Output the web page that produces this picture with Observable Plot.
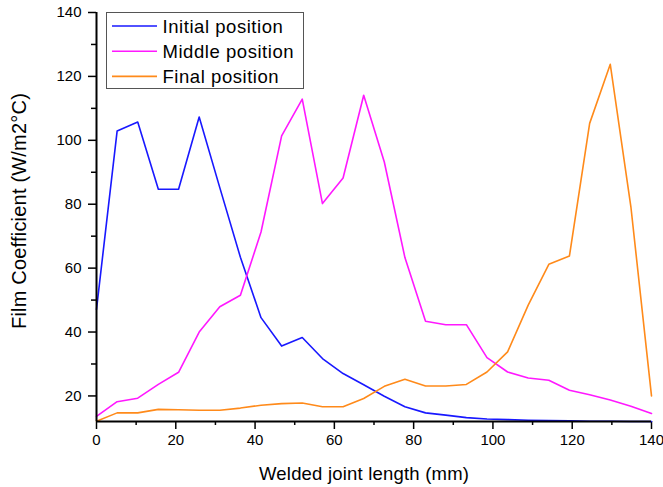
<!DOCTYPE html>
<html>
<head>
<meta charset="utf-8">
<script src="https://cdn.jsdelivr.net/npm/d3@7"></script>
<script src="https://cdn.jsdelivr.net/npm/@observablehq/plot@0.6"></script>
<style>
  html, body { margin: 0; padding: 0; background: #fff; }
  #wrap { position: relative; width: 663px; height: 487px; overflow: hidden; font-family: "Liberation Sans", Arial, sans-serif; }
  #ylabel { position: absolute; left: -131px; top: 199px; width: 300px; height: 24px; line-height: 24px; text-align: center; font-size: 20px; transform: rotate(-90deg); transform-origin: 150px 12px; white-space: nowrap; color: #000; letter-spacing: 0.2px; }
  #xlabel { position: absolute; left: 259px; top: 462px; font-size: 18.5px; line-height: 24px; white-space: nowrap; color: #000; letter-spacing: 0.2px; }
  #legend { position: absolute; left: 106px; top: 12px; width: 196px; height: 75px; border: 1px solid #555; background: #fff; }
  #legend svg { position: absolute; left: 0; top: 0; }
</style>
</head>
<body>
<div id="wrap">
  <div id="chart"></div>
  <div id="ylabel">Film Coefficient (W/m2°C)</div>
  <div id="xlabel">Welded joint length (mm)</div>
  <div id="legend"></div>
</div>
<script>
// ---- data ----
const xs = [0, 5.2, 10.4, 15.6, 20.7, 25.9, 31.1, 36.3, 41.5, 46.7, 51.9, 57.0, 62.2, 67.4,
            72.6, 77.8, 83.0, 88.1, 93.3, 98.5, 103.7, 108.9, 114.1, 119.3, 124.4, 129.6, 134.8, 140];
const initialPos = [47.1, 102.9, 105.7, 84.7, 84.7, 107.3, 85.2, 63.4, 44.5, 35.6, 38.3, 31.7, 27.0, 23.5,
                    19.9, 16.6, 14.7, 14.0, 13.2, 12.8, 12.6, 12.4, 12.3, 12.2, 12.1, 12.1, 12.0, 12.0];
const middlePos = [13.6, 18.2, 19.3, 23.6, 27.4, 40.0, 47.9, 51.5, 71.3, 101.4, 112.9, 80.2, 88.2, 114.1,
                   93.2, 63.3, 43.4, 42.3, 42.3, 32.0, 27.5, 25.6, 24.9, 21.8, 20.4, 18.7, 16.8, 14.5];
const finalPos = [12.1, 14.7, 14.7, 15.8, 15.7, 15.5, 15.5, 16.2, 17.1, 17.6, 17.8, 16.6, 16.6, 19.2,
                  23.0, 25.2, 23.1, 23.1, 23.6, 27.5, 33.8, 48.4, 61.2, 63.8, 105.3, 123.8, 79.2, 20.0];
const seriesNames = ["Initial position", "Middle position", "Final position"];
const seriesColors = ["#1818ff", "#ff18ff", "#ff8a1a"];
const xTicks = [0, 20, 40, 60, 80, 100, 120, 140];
const xMinor = [10, 30, 50, 70, 90, 110, 130];
const yTicks = [20, 40, 60, 80, 100, 120, 140];
const yMinor = [30, 50, 70, 90, 110, 130];

const seriesValues = [initialPos, middlePos, finalPos];
const rows = seriesNames.flatMap((s, k) => xs.map((x, i) => ({x, y: seriesValues[k][i], s})));

const chart = Plot.plot({
  width: 663,
  height: 487,
  marginLeft: 96,
  marginRight: 12,
  marginTop: 12,
  marginBottom: 66,
  x: {domain: [0, 140], label: null},
  y: {domain: [12, 140], label: null},
  color: {domain: seriesNames, range: seriesColors},
  style: {fontFamily: "'Liberation Sans', Arial, sans-serif", fontSize: "15px", color: "#000", background: "transparent"},
  marks: [
    Plot.axisX(xTicks, {tickSize: 8, tickPadding: 5, strokeWidth: 1.5, label: null, fontSize: 15}),
    Plot.axisX(xMinor, {tickSize: 4, tickFormat: () => "", strokeWidth: 1.5, label: null}),
    Plot.axisY(yTicks, {tickSize: 8, tickPadding: 7, strokeWidth: 1.5, label: null, fontSize: 15}),
    Plot.axisY(yMinor, {tickSize: 5, tickFormat: () => "", strokeWidth: 1.5, label: null}),
    Plot.lineY(rows, {x: "x", y: "y", z: "s", stroke: "s", strokeWidth: 1.6}),
    Plot.ruleX([0], {stroke: "#000", strokeWidth: 2}),
    Plot.ruleY([12], {stroke: "#000", strokeWidth: 2})
  ]
});
document.getElementById("chart").appendChild(chart);

// legend
const legend = d3.select("#legend").append("svg").attr("width", 196).attr("height", 75);
seriesNames.forEach((name, k) => {
  const cy = 13 + k * 25.2;
  legend.append("line").attr("x1", 5).attr("x2", 50).attr("y1", cy).attr("y2", cy)
    .attr("stroke", seriesColors[k]).attr("stroke-width", 1.6);
  legend.append("text").attr("x", 55.5).attr("y", cy + 6.6)
    .attr("font-family", "'Liberation Sans', Arial, sans-serif").attr("font-size", 18.5)
    .attr("letter-spacing", 0.55).attr("fill", "#000").text(name);
});
</script>
</body>
</html>
